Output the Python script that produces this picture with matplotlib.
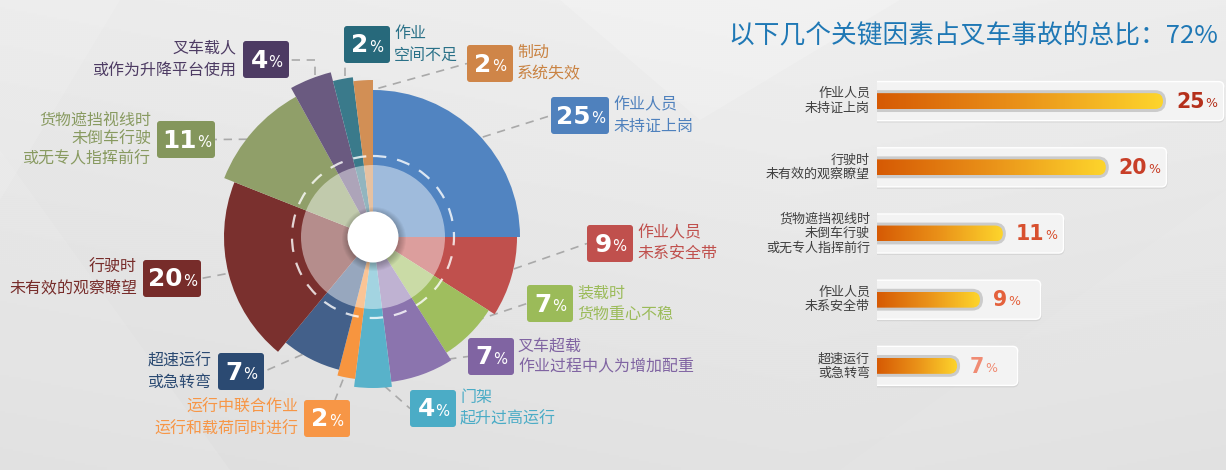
import numpy as np
import matplotlib.pyplot as plt
from matplotlib.patches import Wedge, Circle, FancyBboxPatch, Polygon

plt.rcParams['font.family'] = ['Noto Sans CJK SC', 'DejaVu Sans']

# rose chart, clockwise from 12 o'clock
causes = ["作业人员\n未持证上岗", "作业人员\n未系安全带", "装载时\n货物重心不稳",
          "叉车超载\n作业过程中人为增加配重", "门架\n起升过高运行",
          "运行中联合作业\n运行和载荷同时进行", "超速运行\n或急转弯",
          "行驶时\n未有效的观察瞭望", "货物遮挡视线时\n未倒车行驶\n或无专人指挥前行",
          "叉车载人\n或作为升降平台使用", "作业\n空间不足", "制动\n系统失效"]
shares = [25, 9, 7, 7, 4, 2, 7, 20, 11, 4, 2, 2]

# bar panel
top_causes = ["作业人员\n未持证上岗", "行驶时\n未有效的观察瞭望",
              "货物遮挡视线时\n未倒车行驶\n或无专人指挥前行",
              "作业人员\n未系安全带", "超速运行\n或急转弯"]
top_shares = [25, 20, 11, 9, 7]
title = "以下几个关键因素占叉车事故的总比：%d%%" % sum(top_shares)

# ---- style ----
sector_colors = ['#5184c1', '#c0504d', '#9fbe5e', '#8b74ae', '#58b2ca', '#f7953f',
                 '#43608a', '#7a302e', '#909f69', '#6a5a80', '#3a7a8b', '#d28f55']
box_colors = ['#4f81bd', '#c0504d', '#9bbb59', '#8064a2', '#4bacc6', '#f79646',
              '#2b4a72', '#772c2a', '#84965c', '#4d3b63', '#27697b', '#cf8548']
text_colors = ['#4f81bd', '#c0504d', '#9bbb59', '#8064a2', '#4bacc6', '#f79646',
               '#2b4a72', '#772c2a', '#889a60', '#4d3b63', '#2a7188', '#c98343']
outer_r = [147, 144, 137, 146, 151, 143, 137, 149, 160, 170, 161, 157]
box_pos = [(551, 97), (587, 225), (527, 285), (468, 338), (410, 390), (304, 400),
           (218, 353), (143, 260), (157, 121), (243, 41), (344, 26), (467, 45)]
sides = ['R', 'R', 'R', 'R', 'R', 'L', 'L', 'L', 'L', 'L', 'R', 'R']
leader = ['l', 'l', 'l', 'l', 'l', 't', 'r', 'r', 'r', 'elbow', 'elbow', 'l']
value_colors = ['#b5301b', '#c83f28', '#d8502f', '#e4613c', '#f08b73']

W, H = 1226, 470
cx, cy = 373, 237
fig = plt.figure(figsize=(W / 100, H / 100), dpi=100)
ax = fig.add_axes([0, 0, 1, 1])

# background
yy, xx = np.mgrid[0:H:2, 0:W:2]
bg = 0.935 - 0.05 * (yy / H) - 0.025 * np.abs(xx / W - 0.65)
ax.imshow(bg, cmap='gray', vmin=0, vmax=1, extent=(0, W, H, 0), aspect='auto',
          interpolation='bilinear', zorder=0)
for pts, a in [([(0, 150), (230, 470), (0, 470)], 0.10),
               ([(560, 0), (900, 0), (700, 120)], 0.18),
               ([(840, 470), (1226, 190), (1226, 470)], 0.06),
               ([(0, 0), (120, 0), (0, 200)], 0.12)]:
    ax.add_patch(Polygon(pts, closed=True, fc='white', ec='none', alpha=a, zorder=0.5))
ax.set_xlim(0, W)
ax.set_ylim(H, 0)
ax.axis('off')

# sectors
start = 0
mids = []
for i, v in enumerate(shares):
    span = v * 3.6
    ax.add_patch(Wedge((cx, cy), outer_r[i], start - 90, start + span - 90,
                       fc=sector_colors[i], ec='none', zorder=3))
    mids.append(start + span / 2)
    start += span
ax.add_patch(Circle((cx, cy), 72, fc='white', ec='none', alpha=0.45, zorder=4))
ax.add_patch(Circle((cx, cy), 81, fill=False, ec='white', lw=1.6, alpha=0.8,
                    ls=(0, (6, 5)), zorder=4))
for k in range(8):
    ax.add_patch(Circle((cx + 1, cy + 2), 25 + k, fc='black', ec='none', alpha=0.035, zorder=5))
ax.add_patch(Circle((cx, cy), 25.5, fc='white', ec='none', zorder=6))

# labels with boxes and leader lines
bh = 37
for i, v in enumerate(shares):
    bx, by = box_pos[i]
    bw = 58 if v >= 10 else 46
    ang = np.radians(mids[i])
    r0 = outer_r[i] - 12
    sx, sy = cx + r0 * np.sin(ang), cy - r0 * np.cos(ang)
    kind = leader[i]
    if kind == 'l':
        pts = [(sx, sy), (bx, by + bh / 2)]
    elif kind == 'r':
        pts = [(sx, sy), (bx + bw, by + bh / 2)]
    elif kind == 't':
        pts = [(sx, sy), (bx + bw / 2 + 8, by)]
    else:
        if sx > bx + bw:
            pts = [(sx, sy), (sx, by + bh / 2), (bx + bw, by + bh / 2)]
        elif sx < bx:
            pts = [(sx, sy), (sx, by + bh / 2), (bx, by + bh / 2)]
        else:
            pts = [(sx, sy), (sx, by + bh)]
    px_, py_ = zip(*pts)
    ax.plot(px_, py_, color='#a9a9a9', lw=1.2, ls=(0, (5, 4)), zorder=2)

    ax.add_patch(FancyBboxPatch((bx, by), bw, bh, boxstyle='round,pad=0,rounding_size=3',
                                fc=box_colors[i], ec='none', zorder=7))
    nx = bx + bw / 2 + (17.4 * len(str(v)) - 14) / 2
    num = ax.text(nx, by + bh / 2 + 1, str(v), ha='right', va='center', color='white',
                  fontsize=17.8, fontweight='bold', family='DejaVu Sans', zorder=8)
    ax.annotate('%', xy=(1, 0), xycoords=num, xytext=(0.5, 1.7), textcoords='offset points',
                ha='left', va='bottom', color='white', fontsize=10.6,
                family='DejaVu Sans', zorder=8)
    nlines = causes[i].count('\n') + 1
    ls = 1.2 if nlines > 2 else 1.35
    if sides[i] == 'R':
        ax.text(bx + bw + 4, by + bh / 2, causes[i], ha='left', va='center',
                color=text_colors[i], fontsize=11.5, linespacing=ls, zorder=8)
    else:
        ax.text(bx - 6, by + bh / 2, causes[i], ha='right', va='center',
                color=text_colors[i], fontsize=11.5, linespacing=ls, zorder=8)

# title
ax.text(728, 35, title, ha='left', va='center', color='#1f78b5', fontsize=18.5, zorder=8)

# ---- bar panel ----
ppu = 286 / 25  # pixels per percent
left_px, top_px, row_px = 877, 68, 66.2
aw = (W - left_px) / ppu
axb = fig.add_axes([left_px / W, (H - top_px - 5 * row_px) / H, (W - left_px) / W, 5 * row_px / H])
axb.patch.set_visible(False)
ypos = np.arange(len(top_shares))
bars = axb.barh(ypos, top_shares, height=0.24, color='none')
m = ppu / row_px
grad = np.linspace(0, 1, 256)[None, :]
from matplotlib.colors import LinearSegmentedColormap
cmap = LinearSegmentedColormap.from_list('bar', ['#d65a04', '#ea9219', '#fdd52c'])
for j, rect in enumerate(bars):
    w = rect.get_width()
    yc = rect.get_y() + rect.get_height() / 2
    # card shadow + card
    axb.add_patch(FancyBboxPatch((-1, yc - 0.295 + 0.03), w + 1 + 5.3 + 0.1, 0.59,
                                 boxstyle='round,pad=0,rounding_size=%f' % (6 / ppu),
                                 mutation_aspect=m, fc='black', ec='none', alpha=0.07, zorder=1))
    axb.add_patch(FancyBboxPatch((-1, yc - 0.295), w + 1 + 5.3, 0.59,
                                 boxstyle='round,pad=0,rounding_size=%f' % (5 / ppu),
                                 mutation_aspect=m, fc='#f3f3f3', ec='white', lw=1, zorder=2))
    # groove
    axb.add_patch(FancyBboxPatch((-1, yc - 0.165), w + 1 + 3 / ppu, 0.33,
                                 boxstyle='round,pad=0,rounding_size=%f' % (11 / ppu),
                                 mutation_aspect=m, fc='#cbcbcb', ec='none', zorder=3))
    clip = FancyBboxPatch((-1, yc - 0.12), w + 1, 0.24,
                          boxstyle='round,pad=0,rounding_size=%f' % (8 / ppu),
                          mutation_aspect=m, fc='none', ec='none', zorder=3)
    axb.add_patch(clip)
    im = axb.imshow(grad, cmap=cmap, extent=(0, w, yc + 0.12, yc - 0.12), aspect='auto',
                    interpolation='bilinear', zorder=4)
    im.set_clip_path(clip)
    num = axb.text(w + 13 / ppu, yc + 0.01, str(top_shares[j]), ha='left', va='center',
                   color=value_colors[j], fontsize=14.8, fontweight='bold',
                   family='DejaVu Sans', zorder=5)
    axb.annotate('%', xy=(1, 0), xycoords=num, xytext=(0.5, 1.4), textcoords='offset points',
                 ha='left', va='bottom', color=value_colors[j], fontsize=9,
                 family='DejaVu Sans', zorder=5)
    axb.text(-7 / ppu, yc, top_causes[j], ha='right', va='center', color='#404040',
             fontsize=9.4, linespacing=1.15, zorder=5)
axb.set_xlim(0, aw)
axb.set_ylim(4.5, -0.5)
axb.axis('off')

fig.savefig('out.png', dpi=100)
